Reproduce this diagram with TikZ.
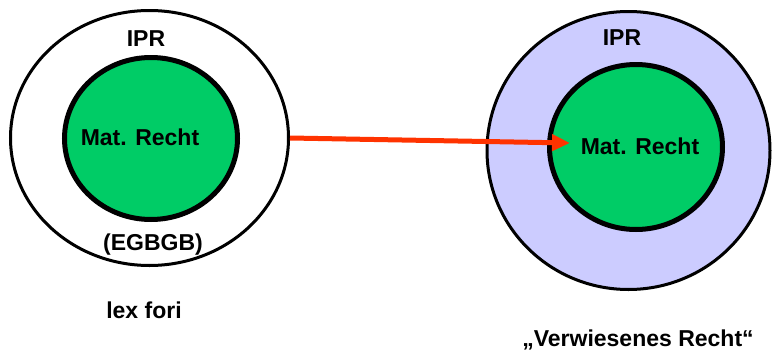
\documentclass[tikz,border=0pt]{standalone}
\usepackage{fontspec}
\setmainfont{Liberation Sans}
\usetikzlibrary{shapes.geometric,arrows.meta}
\definecolor{matgreen}{HTML}{00CC66}
\definecolor{iprblue}{HTML}{CCCCFF}
\definecolor{refred}{HTML}{FF3300}
\begin{document}
\begin{tikzpicture}[x=1pt,y=-1pt,
  outerring/.style={ellipse,draw=black,line width=3pt,inner sep=0pt},
  innerring/.style={ellipse,draw=black,line width=5pt,fill=matgreen,inner sep=0pt},
  lbl/.style={font=\fontsize{23}{27}\selectfont\bfseries,inner sep=0pt}]
\useasboundingbox (0,0) rectangle (772,351);
% lex fori
\node[outerring,fill=white,minimum width=278pt,minimum height=255pt] (lo) at (149.5,138) {};
\node[innerring,minimum width=173pt,minimum height=162pt] (li) at (151,138.5) {};
\node[lbl] (lipr) at (146,39) {IPR};
\node[lbl] (lmat) at (140,137) {Mat. Recht};
\node[lbl] (legb) at (153,245) {(EGBGB)};
\node[lbl] (lfori) at (144,310) {lex fori};
% referred law
\node[outerring,fill=iprblue,minimum width=283pt,minimum height=278pt] (ro) at (628.5,150.5) {};
\node[innerring,minimum width=173pt,minimum height=165pt] (ri) at (636,147) {};
\node[lbl] (ripr) at (622,38) {IPR};
\node[lbl] (rmat) at (640,146) {Mat. Recht};
\node[lbl] (rverw) at (638,340) {„Verwiesenes Recht“};
% reference arrow
\coordinate (tip) at (570,143);
\draw[refred,line width=5pt,-{Triangle[length=18pt,width=16pt]}] (lo.east) -- (tip);
\end{tikzpicture}
\end{document}
